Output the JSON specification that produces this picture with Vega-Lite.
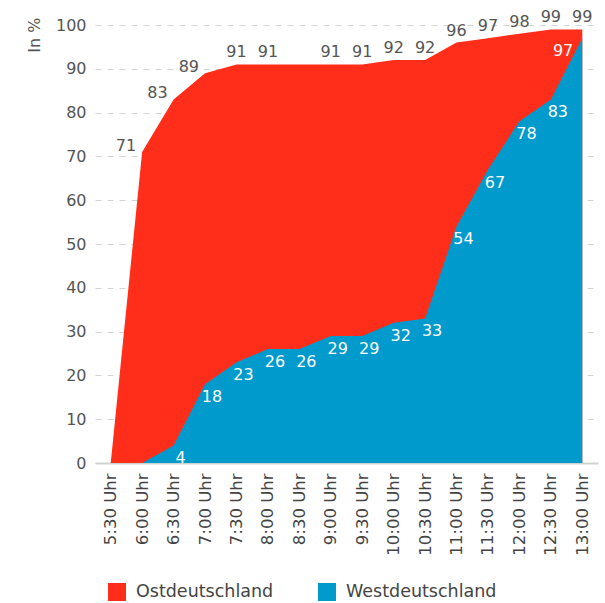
{
  "$schema": "https://vega.github.io/schema/vega-lite/v6.json",
  "width": 503,
  "height": 438,
  "autosize": "none",
  "padding": {"left": 95, "top": 25, "right": 7, "bottom": 140},
  "config": {"font": "DejaVu Sans", "view": {"stroke": null}},
  "data": {
    "values": [
      {"time": "5:30 Uhr", "region": "Ostdeutschland", "value": 0},
      {"time": "6:00 Uhr", "region": "Ostdeutschland", "value": 71},
      {"time": "6:30 Uhr", "region": "Ostdeutschland", "value": 83},
      {"time": "7:00 Uhr", "region": "Ostdeutschland", "value": 89},
      {"time": "7:30 Uhr", "region": "Ostdeutschland", "value": 91},
      {"time": "8:00 Uhr", "region": "Ostdeutschland", "value": 91},
      {"time": "8:30 Uhr", "region": "Ostdeutschland", "value": 91},
      {"time": "9:00 Uhr", "region": "Ostdeutschland", "value": 91},
      {"time": "9:30 Uhr", "region": "Ostdeutschland", "value": 91},
      {"time": "10:00 Uhr", "region": "Ostdeutschland", "value": 92},
      {"time": "10:30 Uhr", "region": "Ostdeutschland", "value": 92},
      {"time": "11:00 Uhr", "region": "Ostdeutschland", "value": 96},
      {"time": "11:30 Uhr", "region": "Ostdeutschland", "value": 97},
      {"time": "12:00 Uhr", "region": "Ostdeutschland", "value": 98},
      {"time": "12:30 Uhr", "region": "Ostdeutschland", "value": 99},
      {"time": "13:00 Uhr", "region": "Ostdeutschland", "value": 99},
      {"time": "5:30 Uhr", "region": "Westdeutschland", "value": 0},
      {"time": "6:00 Uhr", "region": "Westdeutschland", "value": 0},
      {"time": "6:30 Uhr", "region": "Westdeutschland", "value": 4},
      {"time": "7:00 Uhr", "region": "Westdeutschland", "value": 18},
      {"time": "7:30 Uhr", "region": "Westdeutschland", "value": 23},
      {"time": "8:00 Uhr", "region": "Westdeutschland", "value": 26},
      {"time": "8:30 Uhr", "region": "Westdeutschland", "value": 26},
      {"time": "9:00 Uhr", "region": "Westdeutschland", "value": 29},
      {"time": "9:30 Uhr", "region": "Westdeutschland", "value": 29},
      {"time": "10:00 Uhr", "region": "Westdeutschland", "value": 32},
      {"time": "10:30 Uhr", "region": "Westdeutschland", "value": 33},
      {"time": "11:00 Uhr", "region": "Westdeutschland", "value": 54},
      {"time": "11:30 Uhr", "region": "Westdeutschland", "value": 67},
      {"time": "12:00 Uhr", "region": "Westdeutschland", "value": 78},
      {"time": "12:30 Uhr", "region": "Westdeutschland", "value": 83},
      {"time": "13:00 Uhr", "region": "Westdeutschland", "value": 97}
    ]
  },
  "encoding": {
    "x": {
      "field": "time",
      "type": "ordinal",
      "sort": null,
      "scale": {"type": "point", "padding": 0.5},
      "axis": {
        "title": null,
        "labelAngle": -90,
        "labelPadding": 10,
        "labelFontSize": 16.5,
        "labelColor": "#444",
        "ticks": false,
        "domainColor": "#cdd3d0",
        "domainWidth": 2,
        "grid": false
      }
    },
    "y": {
      "field": "value",
      "type": "quantitative",
      "stack": null,
      "scale": {"domain": [0, 100]},
      "axis": {
        "values": [0, 10, 20, 30, 40, 50, 60, 70, 80, 90, 100],
        "title": "In %",
        "titleFontSize": 16,
        "titleFontWeight": "normal",
        "titleColor": "#555",
        "titleAngle": -90,
        "titleX": -61,
        "titleY": -8,
        "titleAlign": "right",
        "titleBaseline": "middle",
        "domain": false,
        "ticks": false,
        "grid": true,
        "gridDash": [6, 6],
        "gridColor": "#cfd6d2",
        "gridWidth": 1,
        "labelPadding": 9,
        "labelFontSize": 16,
        "labelColor": "#555"
      }
    }
  },
  "layer": [
    {
      "mark": {"type": "area", "interpolate": "linear", "opacity": 1},
      "encoding": {
        "color": {
          "field": "region",
          "type": "nominal",
          "scale": {"domain": ["Ostdeutschland", "Westdeutschland"], "range": ["#fe2e1a", "#009acc"]},
          "legend": {
            "title": null,
            "orient": "none",
            "legendX": 13,
            "legendY": 558,
            "direction": "horizontal",
            "symbolType": "square",
            "symbolSize": 324,
            "symbolStrokeWidth": 0,
            "symbolOpacity": 1,
            "labelFontSize": 17.5,
            "labelColor": "#444",
            "labelOffset": 10,
            "columnPadding": 44,
            "labelLimit": 300
          }
        }
      }
    },
    {
      "transform": [{"filter": "datum.region == 'Ostdeutschland' && datum.value > 0 && indexof(['6:00 Uhr','6:30 Uhr','7:00 Uhr','8:30 Uhr'], datum.time) < 0"}],
      "mark": {"type": "text", "baseline": "bottom", "dy": -4, "fontSize": 16, "color": "#555"},
      "encoding": {"text": {"field": "value", "type": "quantitative"}}
    },
    {
      "transform": [{"filter": "datum.region == 'Ostdeutschland' && indexof(['6:00 Uhr','6:30 Uhr','7:00 Uhr'], datum.time) >= 0"}],
      "mark": {"type": "text", "align": "right", "baseline": "middle", "dx": -6, "dy": -6, "fontSize": 16, "color": "#555"},
      "encoding": {"text": {"field": "value", "type": "quantitative"}}
    },
    {
      "transform": [{"filter": "datum.region == 'Westdeutschland' && datum.value > 0 && datum.time != '13:00 Uhr'"}],
      "mark": {"type": "text", "baseline": "top", "dx": 7, "dy": 5, "fontSize": 16, "color": "white"},
      "encoding": {"text": {"field": "value", "type": "quantitative"}}
    },
    {
      "transform": [{"filter": "datum.region == 'Westdeutschland' && datum.time == '13:00 Uhr'"}],
      "mark": {"type": "text", "align": "right", "baseline": "top", "dx": -9, "dy": 5, "fontSize": 16, "color": "white"},
      "encoding": {"text": {"field": "value", "type": "quantitative"}}
    }
  ]
}
